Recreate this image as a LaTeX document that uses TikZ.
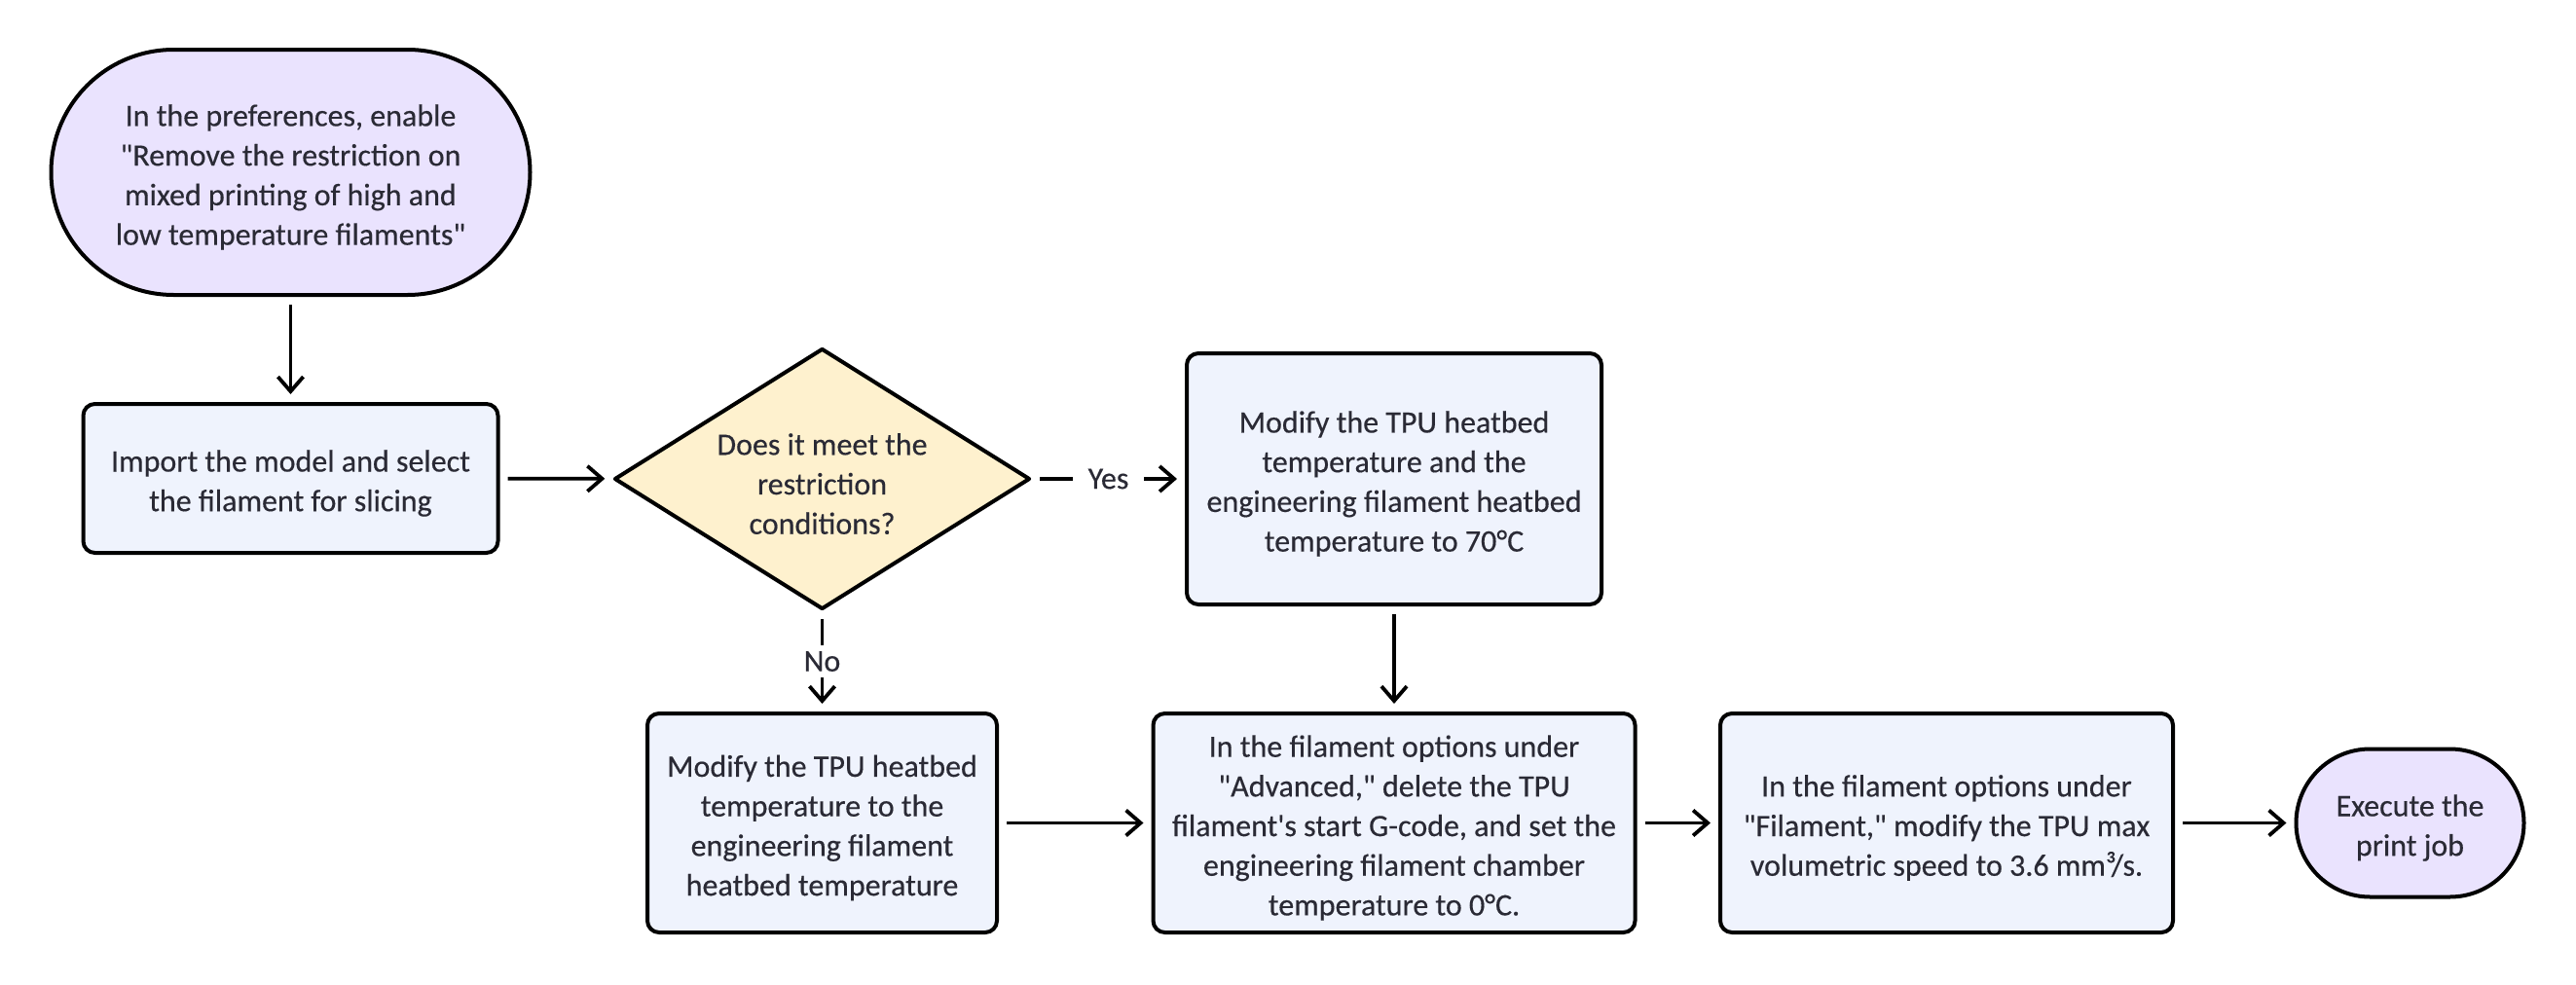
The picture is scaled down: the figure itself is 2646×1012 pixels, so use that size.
\documentclass[tikz,border=0pt]{standalone}
\usepackage{fontspec}
\newfontfamily\diagfont{Carlito}[FakeBold=0.35]
\usetikzlibrary{shapes.geometric,shapes.misc,arrows.meta}
\definecolor{txt}{HTML}{2A2A35}
\definecolor{startfill}{HTML}{EAE3FE}
\definecolor{boxfill}{HTML}{EFF3FD}
\definecolor{decfill}{HTML}{FEF1CE}
\begin{document}
\begin{tikzpicture}[x=0.5pt,y=-0.5pt,
  every node/.style={font=\diagfont\fontsize{16}{20.35}\selectfont, text=txt},
  base/.style={draw=black, line width=2pt, inner sep=0pt},
  intext/.style={align=center, inner sep=0pt, yshift=-2.5pt, text=txt},
  stepbox/.style={base, rectangle, rounded corners=6pt, fill=boxfill},
  term/.style={base, rounded rectangle, fill=startfill},
  decision/.style={base, diamond, fill=decfill, line join=round},
  conn/.style={line width=1.9pt, -{Straight Barb[length=7.5pt,width=13pt,line width=1.9pt]}, shorten >=4pt, shorten <=4pt},
  lbl/.style={fill=white, inner xsep=8pt, inner ysep=3pt}
]
\useasboundingbox (0,0) rectangle (2646,1012);

\node[term, minimum width=246pt, minimum height=126pt,
  label={[intext]center:In the preferences, enable\\"Remove the restriction on\\mixed printing of high and\\low temperature filaments"}] (start) at (298.5,177) {};
\node[stepbox, minimum width=213pt, minimum height=76.5pt,
  label={[intext]center:Import the model and select\\the filament for slicing}] (import) at (298.5,491.5) {};
\node[decision, minimum width=213.5pt, minimum height=134pt,
  label={[intext]center:Does it meet the\\restriction\\conditions?}] (dec) at (844.5,492) {};
\node[stepbox, minimum width=213pt, minimum height=129pt,
  label={[intext]center:Modify the TPU heatbed\\temperature and the\\engineering filament heatbed\\temperature to 70°C}] (yes) at (1432,492) {};
\node[stepbox, minimum width=179.5pt, minimum height=112.5pt,
  label={[intext]center:Modify the TPU heatbed\\temperature to the\\engineering filament\\heatbed temperature}] (no) at (844.5,845.5) {};
\node[stepbox, minimum width=247.5pt, minimum height=112.5pt,
  label={[intext]center:In the filament options under\\"Advanced," delete the TPU\\filament's start G-code, and set the\\engineering filament chamber\\temperature to 0°C.}] (adv) at (1432,845.5) {};
\node[stepbox, minimum width=232.5pt, minimum height=112.5pt,
  label={[intext]center:In the filament options under\\"Filament," modify the TPU max\\volumetric speed to 3.6 mm³/s.}] (fil) at (1999.5,845.5) {};
\node[term, minimum width=117pt, minimum height=76pt,
  label={[intext]center:Execute the\\print job}] (exec) at (2475.5,845.5) {};

\draw[conn] (start) -- (import);
\draw[conn] (import) -- (dec);
\draw[conn] (dec) -- node[lbl]{Yes} (yes);
\draw[conn] (dec) -- node[lbl]{No} (no);
\draw[conn] (yes) -- (adv);
\draw[conn] (no) -- (adv);
\draw[conn] (adv) -- (fil);
\draw[conn] (fil) -- (exec);
\end{tikzpicture}
\end{document}
